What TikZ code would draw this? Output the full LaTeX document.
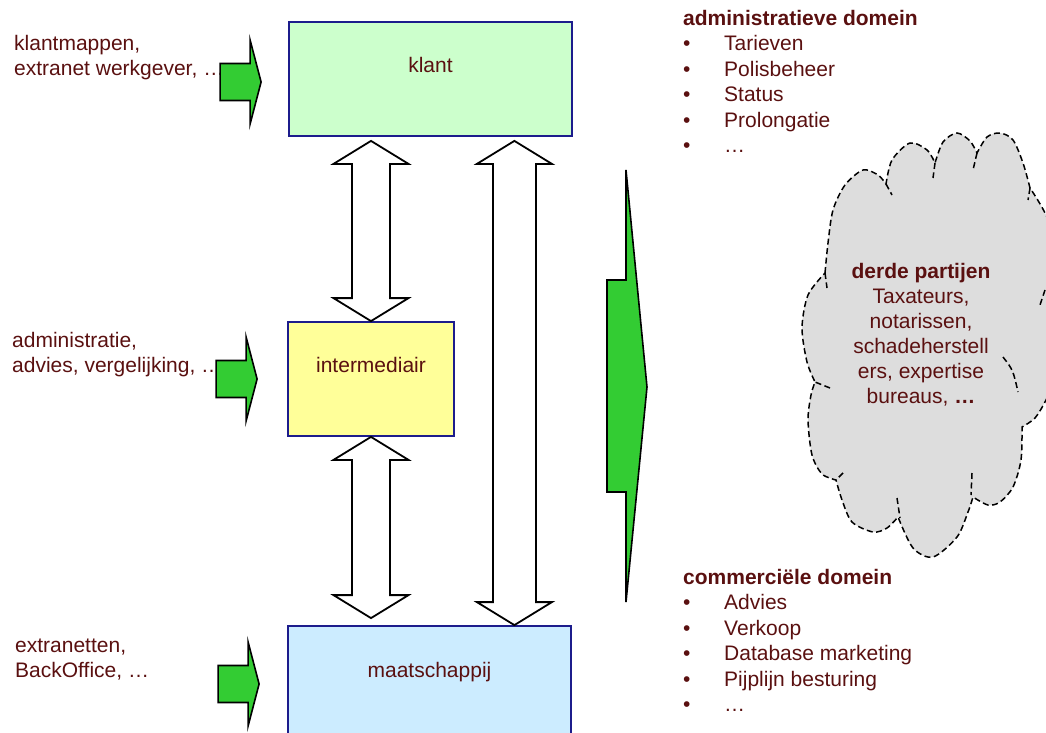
\documentclass[tikz,border=0pt]{standalone}
\usepackage{fontspec}
\setmainfont{Liberation Sans}
\usepackage{tikz}
\usetikzlibrary{calc, positioning}

\definecolor{txtred}{HTML}{5A1010}
\definecolor{boxblue}{HTML}{1C1C8C}
\definecolor{klantgreen}{HTML}{CCFFCC}
\definecolor{interyellow}{HTML}{FFFF99}
\definecolor{maatblue}{HTML}{CCECFF}
\definecolor{arrowgreen}{HTML}{33CC33}
\definecolor{cloudgray}{HTML}{DDDDDD}

\tikzset{
  blockline/.style={fill=white, draw=black, line width=1.8pt, line join=miter},
  greenline/.style={fill=arrowgreen, draw=black, line width=1.6pt, line join=miter},
  cloudline/.style={draw=black, line width=1.5pt, dash pattern=on 6pt off 3.5pt}
}

% white block arrow with two heads, tips #1 (top) and #2 (bottom), shaft half width #3
\newcommand{\bigarrow}[3]{%
  \draw[blockline] let \p1=(#1), \p2=(#2) in
    (\x1,\y1) -- (\x1+37.5pt,\y1-23pt) -- (\x1+#3,\y1-23pt) -- (\x1+#3,\y2+23pt)
    -- (\x1+37.5pt,\y2+23pt) -- (\x2,\y2) -- (\x1-37.5pt,\y2+23pt) -- (\x1-#3,\y2+23pt)
    -- (\x1-#3,\y1-23pt) -- (\x1-37.5pt,\y1-23pt) -- cycle;}
% small green arrow pointing right, tip at #1
\newcommand{\inarrow}[1]{%
  \draw[greenline] let \p1=(#1) in
    (\x1,\y1) -- (\x1-11pt,\y1+42pt) -- (\x1-11pt,\y1+18.5pt) -- (\x1-41pt,\y1+18.5pt)
    -- (\x1-41pt,\y1-18.5pt) -- (\x1-11pt,\y1-18.5pt) -- (\x1-11pt,\y1-42pt) -- cycle;}

\begin{document}
\begin{tikzpicture}[x=1pt, y=-1pt]
\useasboundingbox (0,0) rectangle (1046,733);

% the three parties
\begin{scope}[every node/.style={draw=boxblue, line width=1.8pt, minimum width=283pt,
                                 minimum height=114pt, inner sep=0pt}]
  \node[fill=klantgreen] (klant) at (430.5,79) {};
  \node[fill=interyellow, minimum width=166pt] (inter) at (371,379) {};
  \node[fill=maatblue] (maat) at (429.5,683) {};
\end{scope}

\begin{scope}[every node/.style={text=txtred, font=\fontsize{21}{25}\selectfont, inner sep=0pt}]
  \node[anchor=base] (klanttxt) at ($(klant.north)+(0,51)$) {klant};
  \node[anchor=base] (intertxt) at ($(inter.north)+(0,51)$) {intermediair};
  \node[anchor=base] (maattxt) at ($(maat.north)+(0,52)$) {maatschappij};
  \node[anchor=north west, align=left] (klanttools) at (14,35) {klantmappen,\\extranet werkgever, …};
  \node[anchor=north west, align=left] (intertools) at (12,332) {administratie,\\advies, vergelijking, …};
  \node[anchor=north west, align=left] (maattools) at (15,639) {extranetten,\\BackOffice, …};
\end{scope}

% domains
\begin{scope}[every node/.style={text=txtred, font=\fontsize{21}{25.5}\selectfont, inner sep=0pt,
                                 anchor=north west, align=left}]
  \node (admin) at (683,10) {\textbf{administratieve domein}\\
    \makebox[41pt][l]{•}Tarieven\\ \makebox[41pt][l]{•}Polisbeheer\\
    \makebox[41pt][l]{•}Status\\ \makebox[41pt][l]{•}Prolongatie\\ \makebox[41pt][l]{•}…};
  \node (comm) at (683,569) {\textbf{commerciële domein}\\
    \makebox[41pt][l]{•}Advies\\ \makebox[41pt][l]{•}Verkoop\\
    \makebox[41pt][l]{•}Database marketing\\ \makebox[41pt][l]{•}Pijplijn besturing\\ \makebox[41pt][l]{•}…};
\end{scope}

% input arrows
\coordinate (gk) at ($(klant.west)+(-27,3)$);
\coordinate (gi) at ($(inter.west)+(-30,0)$);
\coordinate (gm) at ($(maat.west)+(-28,1)$);
\inarrow{gk}
\inarrow{gi}
\inarrow{gm}

% exchange arrows
\coordinate (ltop) at ($(klant.south -| inter.north)+(0,4)$);
\coordinate (lbot) at ($(maat.north -| inter.south)+(0,-7)$);
\coordinate (rtop) at ($(klant.south east)+(-58.5,4)$);
\coordinate (rbot) at (rtop |- maat.north);
\bigarrow{ltop}{inter.north}{19pt}
\bigarrow{inter.south}{lbot}{19pt}
\bigarrow{rtop}{rbot}{21.5pt}

% big arrow to the right
\draw[greenline] (626,170) -- (647,387) -- (626,602) -- (626,492) -- (607,492)
  -- (607,280) -- (626,280) -- cycle;

% cloud
\fill[cloudgray] plot[smooth] coordinates {(825,273) (828,243) (833,210) (845,185) (863,170) (878,175) (886,184)}
  -- plot[smooth] coordinates {(886,184) (892,160) (910,143) (927,150) (935,163)}
  -- plot[smooth] coordinates {(935,163) (943,142) (957,133) (970,141) (977,153)}
  -- plot[smooth] coordinates {(977,153) (987,137) (1000,133) (1013,140) (1023,163) (1030,188)}
  -- plot[smooth] coordinates {(1030,188) (1045,213) (1065,260) (1070,320) (1060,370) (1046,400) (1035,418) (1022,427)}
  -- plot[smooth] coordinates {(1022,427) (1021,460) (1013,487) (1000,502) (988,505) (973,497)}
  -- plot[smooth] coordinates {(973,497) (968,512) (957,537) (933,557) (913,548) (898,517)}
  -- plot[smooth] coordinates {(898,517) (887,528) (873,532) (852,522) (842,500) (836,480)}
  -- plot[smooth] coordinates {(836,480) (822,474) (812,455) (808,420) (811,395) (815,382)}
  -- plot[smooth] coordinates {(815,382) (807,362) (802,328) (808,295) (825,273)} -- cycle;
\draw[cloudline] plot[smooth] coordinates {(825,273) (828,243) (833,210) (845,185) (863,170) (878,175) (886,184)}
  -- plot[smooth] coordinates {(886,184) (892,160) (910,143) (927,150) (935,163)}
  -- plot[smooth] coordinates {(935,163) (943,142) (957,133) (970,141) (977,153)}
  -- plot[smooth] coordinates {(977,153) (987,137) (1000,133) (1013,140) (1023,163) (1030,188)}
  -- plot[smooth] coordinates {(1030,188) (1045,213) (1065,260) (1070,320) (1060,370) (1046,400) (1035,418) (1022,427)}
  -- plot[smooth] coordinates {(1022,427) (1021,460) (1013,487) (1000,502) (988,505) (973,497)}
  -- plot[smooth] coordinates {(973,497) (968,512) (957,537) (933,557) (913,548) (898,517)}
  -- plot[smooth] coordinates {(898,517) (887,528) (873,532) (852,522) (842,500) (836,480)}
  -- plot[smooth] coordinates {(836,480) (822,474) (812,455) (808,420) (811,395) (815,382)}
  -- plot[smooth] coordinates {(815,382) (807,362) (802,328) (808,295) (825,273)} -- cycle;
\draw[cloudline] (825,273) -- (827,288);
\draw[cloudline] (886,184) -- (892,195);
\draw[cloudline] (935,163) -- (933,178);
\draw[cloudline] (977,153) -- (973,170);
\draw[cloudline] (1030,188) -- (1028,200);
\draw[cloudline] (1045,290) -- (1039,308);
\draw[cloudline] (1003,357) .. controls (1013,370) .. (1018,392);
\draw[cloudline] (972,473) -- (971,495);
\draw[cloudline] (897,498) -- (900,518);
\draw[cloudline] (843,473) -- (836,480);
\draw[cloudline] (830,388) -- (815,382);

\node[text=txtred, font=\fontsize{21}{25}\selectfont, inner sep=0pt, anchor=north, align=center]
  (derde) at (921,263) {\textbf{derde partijen}\\Taxateurs,\\notarissen,\\schadeherstell\\ers, expertise\\bureaus, \textbf{…}};
\end{tikzpicture}
\end{document}
